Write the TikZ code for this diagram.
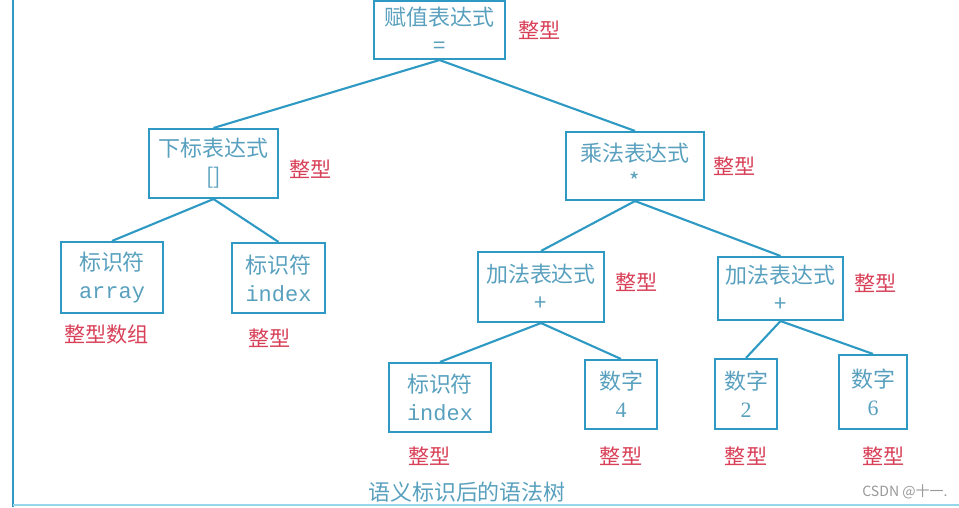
\documentclass[tikz,border=0pt]{standalone}
\usepackage{fontspec}
\setmainfont{Liberation Serif}
\newfontfamily\cjk{Noto Sans CJK SC}
\newfontfamily\codefont{Liberation Mono}
\usepackage{xcolor}
\usepackage{tikz}
\usetikzlibrary{positioning}

\definecolor{lineblue}{RGB}{46,154,196}
\definecolor{boxtext}{RGB}{88,160,190}
\definecolor{typered}{RGB}{216,64,88}
\definecolor{framelight}{RGB}{150,214,234}

\begin{document}
\begin{tikzpicture}[
  x=0.02cm, y=-0.02cm,
  every node/.style={inner sep=0pt},
  tbox/.style ={draw=lineblue, line width=1.2pt, text=boxtext,
                align=center, font=\cjk\fontsize{12.5}{16}\selectfont},
  ttype/.style={text=typered, font=\cjk\fontsize{12}{13}\selectfont},
  edge/.style ={draw=lineblue, line width=1.2pt},
  code/.style ={font=\codefont\fontsize{10.5}{16}\selectfont}
]
\useasboundingbox (0,0) rectangle (959,507);

%% --- frame -----------------------------------------------------
\draw[lineblue, line width=1.1pt] (13,0) -- (13,507);
\draw[framelight, line width=1.2pt] (13,505) -- (959,505);

%% --- level 0 and 1 ---------------------------------------------
\node[tbox, minimum width=2.62cm, minimum height=1.16cm] (assign) at (439.5,30)
     {赋值表达式\\=};
\node[tbox, minimum width=2.58cm, minimum height=1.38cm] (subscr) at (213.5,163.5)
     {下标表达式\\{[]}};
\node[tbox, minimum width=2.76cm, minimum height=1.36cm] (mult) at (635,166)
     {乘法表达式\\*};

%% --- level 2 ---------------------------------------------------
\node[tbox, minimum width=2.04cm, minimum height=1.42cm] (idarr) at (112,277.5)
     {标识符\\{\codefont array}};
\node[tbox, minimum width=1.86cm, minimum height=1.40cm] (idindex) at (278.5,278)
     {标识符\\{\codefont index}};
\node[tbox, minimum width=2.52cm, minimum height=1.40cm] (addl) at (541,287)
     {加法表达式\\+};
\node[tbox, minimum width=2.50cm, minimum height=1.26cm] (addr) at (780.5,288.5)
     {加法表达式\\+};

%% --- level 3 ---------------------------------------------------
\node[tbox, minimum width=2.04cm, minimum height=1.38cm] (idindexb) at (440,397.5)
     {标识符\\{\codefont index}};
\node[tbox, minimum width=1.44cm, minimum height=1.38cm] (numfour) at (621,394.5)
     {数字\\{\rmfamily 4}};
\node[tbox, minimum width=1.24cm, minimum height=1.40cm] (numtwo) at (746,394)
     {数字\\{\rmfamily 2}};
\node[tbox, minimum width=1.36cm, minimum height=1.48cm] (numsix) at (873,392)
     {数字\\{\rmfamily 6}};

%% --- type labels -----------------------------------------------
\node[ttype, right=0.24cm of assign] (tassign) {整型};
\node[ttype, right=0.2cm of subscr, yshift=-3pt] (tsubscr) {整型};
\node[ttype, right=0.16cm of mult] (tmult) {整型};
\node[ttype, below=0.2cm of idarr, xshift=-3pt] (tidarr) {整型数组};
\node[ttype, below=0.28cm of idindex, xshift=-5pt] (tidindex) {整型};
\node[ttype, right=0.2cm of addl, yshift=3pt] (taddl) {整型};
\node[ttype, right=0.2cm of addr, yshift=3pt] (taddr) {整型};
\node[ttype, below=0.26cm of idindexb, xshift=-6pt] (tidindexb) {整型};
\node[ttype, below=0.32cm of numfour] (tnumfour) {整型};
\node[ttype, below=0.32cm of numtwo] (tnumtwo) {整型};
\node[ttype, below=0.32cm of numsix, xshift=6pt] (tnumsix) {整型};

%% --- captions --------------------------------------------------
\node[text=boxtext, font=\cjk\fontsize{12.5}{14}\selectfont] (caption) at (467,492)
     {语义标识后的语法树};
\node[text=gray!80, font=\cjk\fontsize{8}{10}\selectfont] (mark) at (905,492)
     {CSDN @十一.};

%% --- tree edges ------------------------------------------------
\draw[edge] (assign.south) -- (subscr.north);
\draw[edge] (assign.south) -- (mult.north);
% subscript children
\draw[edge] (subscr.south) -- (idarr.north);
\draw[edge] (subscr.south) -- (idindex.north);
% multiplication children
\draw[edge] (mult.south) -- (addl.north);
\draw[edge] (mult.south) -- (addr.north);
% addition children
\draw[edge] (addl.south) -- (idindexb.north);
\draw[edge] (addl.south) -- (numfour.north);
\draw[edge] (addr.south) -- (numtwo.north);
\draw[edge] (addr.south) -- (numsix.north);

\end{tikzpicture}
\end{document}
